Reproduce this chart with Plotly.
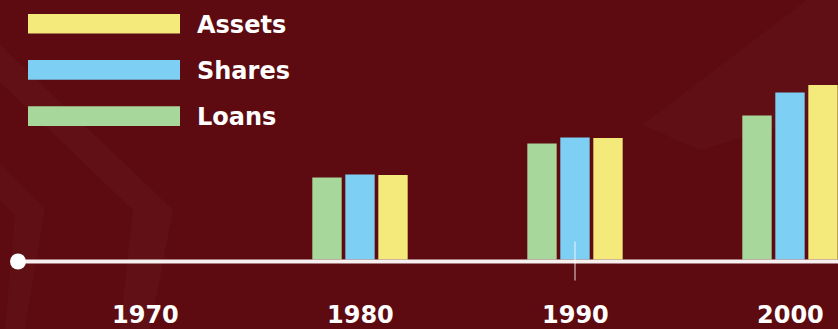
import plotly.graph_objects as go

# ---- data ----
years = [1980, 1990, 2000]
year_labels = ["1970", "1980", "1990", "2000"]
label_years = [1970, 1980, 1990, 2000]
series_names = ["Loans", "Shares", "Assets"]
loans = [82, 116, 144]
shares = [85, 122, 167]
assets = [84.5, 121.5, 174.5]
series_values = [loans, shares, assets]
series_colors = ["#a8d79b", "#7dcff4", "#f4ea7b"]

W, H = 838, 329
BG = "#5d0b10"
FONT = "DejaVu Sans"

def px(x):
    return x / W

def py(y):
    return 1 - y / H

fig = go.Figure()
for name, vals, col in zip(series_names, series_values, series_colors):
    fig.add_trace(go.Bar(x=years, y=vals, name=name, marker_color=col,
                         marker_line_width=0, showlegend=False, hoverinfo="skip"))

shapes = []
# faint background chevrons
def poly(points, color):
    d = "M " + " L ".join(f"{px(a):.5f},{py(b):.5f}" for a, b in points) + " Z"
    return dict(type="path", path=d, xref="paper", yref="paper", layer="below",
                fillcolor=color, line_width=0)

shapes.append(poly([(0, 45), (0, 82), (133, 210), (120, 329), (150, 329), (173, 210)], "rgba(255,255,255,0.028)"))
shapes.append(poly([(0, 165), (45, 208), (25, 329), (5, 329), (15, 215), (0, 200)], "rgba(255,255,255,0.02)"))
shapes.append(poly([(807, 0), (838, 0), (838, 110), (700, 150), (642, 125)], "rgba(255,255,255,0.018)"))

# baseline timeline
shapes.append(dict(type="rect", xref="paper", yref="y", x0=px(18), x1=1,
                   ysizemode="pixel", yanchor=0, y0=-4, y1=0,
                   fillcolor="#f6f0f0", line_width=0, layer="above"))
shapes.append(dict(type="circle", xref="paper", yref="y", xsizemode="pixel", ysizemode="pixel",
                   xanchor=px(18), yanchor=0, x0=-8, x1=8, y0=-10, y1=6,
                   fillcolor="#ffffff", line_width=0, layer="above"))
shapes.append(dict(type="line", xref="x", yref="y", x0=1990, x1=1990,
                   ysizemode="pixel", yanchor=0, y0=-21, y1=18,
                   line=dict(color="rgba(255,255,255,0.85)", width=1), layer="above"))

annotations = []
# custom legend (reversed order: Assets, Shares, Loans)
for i, (name, col) in enumerate(zip(series_names[::-1], series_colors[::-1])):
    cy = 23.7 + i * 46.2
    shapes.append(dict(type="rect", xref="paper", yref="paper",
                       x0=px(28), x1=px(180), y0=py(cy - 9.8), y1=py(cy + 9.8),
                       fillcolor=col, line_width=0))
    annotations.append(dict(text=name, xref="paper", yref="paper", x=px(195), y=py(cy + 1),
                            xanchor="left", yanchor="middle", showarrow=False,
                            font=dict(family=FONT, size=24, color="#ffffff", weight="bold")))

for yr, lab in zip(label_years, year_labels):
    annotations.append(dict(text=lab, xref="x", yref="paper", x=yr, y=py(315),
                            xanchor="center", yanchor="middle", showarrow=False,
                            font=dict(family=FONT, size=24, color="#ffffff", weight="bold")))

fig.update_layout(
    width=W, height=H, autosize=False,
    margin=dict(l=0, r=0, t=0, b=0, pad=0),
    paper_bgcolor=BG, plot_bgcolor="rgba(0,0,0,0)",
    barmode="group", bargap=0.5395, bargroupgap=0.11,
    xaxis=dict(range=[1963.256, 1963.256 + W / 21.5], visible=False, fixedrange=True),
    yaxis=dict(range=[-69.5, 259.5], visible=False, fixedrange=True),
    shapes=shapes, annotations=annotations, showlegend=False,
)

fig.write_html("out.html", config={"displayModeBar": False})
